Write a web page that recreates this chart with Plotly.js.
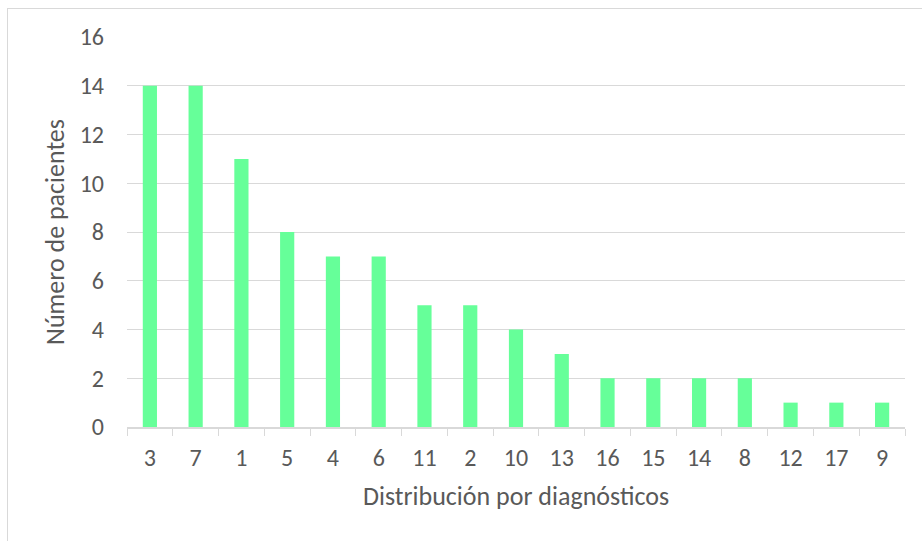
<!DOCTYPE html>
<html>
<head>
<meta charset="utf-8">
<script src="https://cdn.plot.ly/plotly-3.0.1.min.js"></script>
<style>
html,body{margin:0;padding:0;background:#fff;}
#wrap{position:relative;width:922px;height:541px;overflow:hidden;}
#chart{width:922px;height:541px;}
#frame{position:absolute;left:7px;top:8px;width:940px;height:560px;border:1px solid #d9d9d9;box-sizing:border-box;pointer-events:none;}
</style>
</head>
<body>
<div id="wrap"><div id="chart"></div><div id="frame"></div></div>
<script>
const categories = ["3","7","1","5","4","6","11","2","10","13","16","15","14","8","12","17","9"];
const patients = [14,14,11,8,7,7,5,5,4,3,2,2,2,2,1,1,1];
const yTicks = [0,2,4,6,8,10,12,14,16];

const font = "Carlito, Calibri, Lato, sans-serif";
Plotly.newPlot('chart', [{
  type: 'bar',
  x: categories,
  y: patients,
  marker: {color: '#66ff99'},
  hoverinfo: 'x+y'
}], {
  width: 922, height: 541,
  margin: {l: 127, r: 17, t: 37, b: 114},
  paper_bgcolor: 'rgba(0,0,0,0)',
  plot_bgcolor: '#ffffff',
  bargap: 0.69,
  showlegend: false,
  font: {family: font, color: '#595959', size: 24},
  xaxis: {
    type: 'category',
    showline: true, linecolor: '#d9d9d9', linewidth: 1.5,
    ticks: 'outside', ticklen: 7, tickcolor: '#d9d9d9', tickson: 'boundaries',
    ticklabelstandoff: 8,
    showgrid: false,
    tickfont: {family: font, size: 24, color: '#595959'},
    title: {text: 'Distribución por diagnósticos', font: {family: font, size: 26, color: '#595959'}, standoff: 16}
  },
  yaxis: {
    range: [0, 16],
    tickvals: yTicks,
    showgrid: true, gridcolor: '#d9d9d9', gridwidth: 1,
    zeroline: false, showline: false,
    ticks: '', ticklabelstandoff: 22,
    tickfont: {family: font, size: 24, color: '#595959'},
    title: {text: 'Número de pacientes', font: {family: font, size: 26, color: '#595959'}, standoff: 7}
  }
}, {displayModeBar: false});
</script>
</body>
</html>
